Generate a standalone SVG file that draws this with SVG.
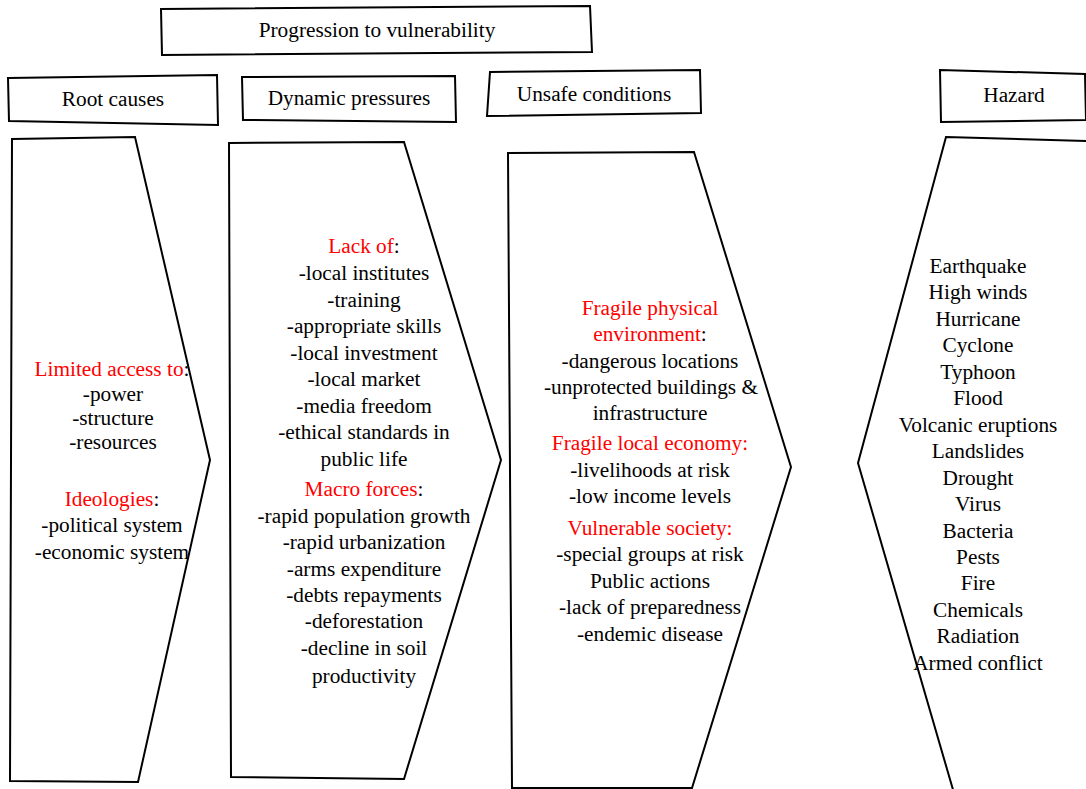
<svg xmlns="http://www.w3.org/2000/svg" width="1086" height="789" viewBox="0 0 1086 789">
<style>
.s{fill:#fff;stroke:#000;stroke-width:2;stroke-linejoin:miter}
text{font-family:"Liberation Serif","Times New Roman",serif;font-size:21.3px;text-anchor:middle;fill:#000}
.r{fill:#f00}
</style>
<rect width="1086" height="789" fill="#fff"/>
<g id="title">
<polygon class="s" points="161,9 590,6 592,52 162,55"/>
<text x="377" y="37">Progression to vulnerability</text>
</g>
<g id="h-root">
<polygon class="s" points="8,78 217,75 218,125 9,121"/>
<text x="113" y="106">Root causes</text>
</g>
<g id="h-dyn">
<polygon class="s" points="242,77 455,76 456,122 243,120"/>
<text x="349" y="105">Dynamic pressures</text>
</g>
<g id="h-unsafe">
<polygon class="s" points="490,72 700,70 701,113 487,116"/>
<text x="594" y="101">Unsafe conditions</text>
</g>
<g id="h-hazard">
<polygon class="s" points="940,70 1085,74 1086,120 941,122"/>
<text x="1014" y="102">Hazard</text>
</g>
<g id="root">
<polygon class="s" points="12,139 135,137 210,460 138,782 10,781"/>
<text x="112" y="376"><tspan class="r">Limited access to</tspan>:</text>
<text x="113" y="401">-power</text>
<text x="113" y="425">-structure</text>
<text x="113" y="449">-resources</text>
<text x="112" y="506"><tspan class="r">Ideologies</tspan>:</text>
<text x="112" y="532">-political system</text>
<text x="112" y="559">-economic system</text>
</g>
<g id="dyn">
<polygon class="s" points="229,143 404,142 501,460 404,779 231,777"/>
<text x="364" y="253"><tspan class="r">Lack of</tspan>:</text>
<text x="364" y="280">-local institutes</text>
<text x="364" y="307">-training</text>
<text x="364" y="333">-appropriate skills</text>
<text x="364" y="360">-local investment</text>
<text x="364" y="386">-local market</text>
<text x="364" y="413">-media freedom</text>
<text x="364" y="439">-ethical standards in</text>
<text x="364" y="466">public life</text>
<text x="364" y="496"><tspan class="r">Macro forces</tspan>:</text>
<text x="364" y="523">-rapid population growth</text>
<text x="364" y="549">-rapid urbanization</text>
<text x="364" y="576">-arms expenditure</text>
<text x="364" y="602">-debts repayments</text>
<text x="364" y="628">-deforestation</text>
<text x="364" y="655">-decline in soil</text>
<text x="364" y="683">productivity</text>
</g>
<g id="unsafe">
<polygon class="s" points="508,153 694,152 791,467 692,788 512,788"/>
<text x="650" y="315" class="r">Fragile physical</text>
<text x="650" y="341"><tspan class="r">environment</tspan>:</text>
<text x="650" y="368">-dangerous locations</text>
<text x="651" y="394">-unprotected buildings &amp;</text>
<text x="650" y="420">infrastructure</text>
<text x="650" y="450" class="r">Fragile local economy:</text>
<text x="650" y="477">-livelihoods at risk</text>
<text x="650" y="503">-low income levels</text>
<text x="650" y="535" class="r">Vulnerable society:</text>
<text x="650" y="561">-special groups at risk</text>
<text x="650" y="588">Public actions</text>
<text x="650" y="614">-lack of preparedness</text>
<text x="650" y="641">-endemic disease</text>
</g>
<g id="hazard">
<polygon class="s" points="946,137 1090,141 1090,800 956,800 858,463"/>
<text x="978" y="273">Earthquake</text>
<text x="978" y="299">High winds</text>
<text x="978" y="326">Hurricane</text>
<text x="978" y="352">Cyclone</text>
<text x="978" y="379">Typhoon</text>
<text x="978" y="405">Flood</text>
<text x="978" y="432">Volcanic eruptions</text>
<text x="978" y="458">Landslides</text>
<text x="978" y="485">Drought</text>
<text x="978" y="511">Virus</text>
<text x="978" y="538">Bacteria</text>
<text x="978" y="564">Pests</text>
<text x="978" y="590">Fire</text>
<text x="978" y="617">Chemicals</text>
<text x="978" y="643">Radiation</text>
<text x="978" y="670">Armed conflict</text>
</g>
<g id="connectors"/>
</svg>
